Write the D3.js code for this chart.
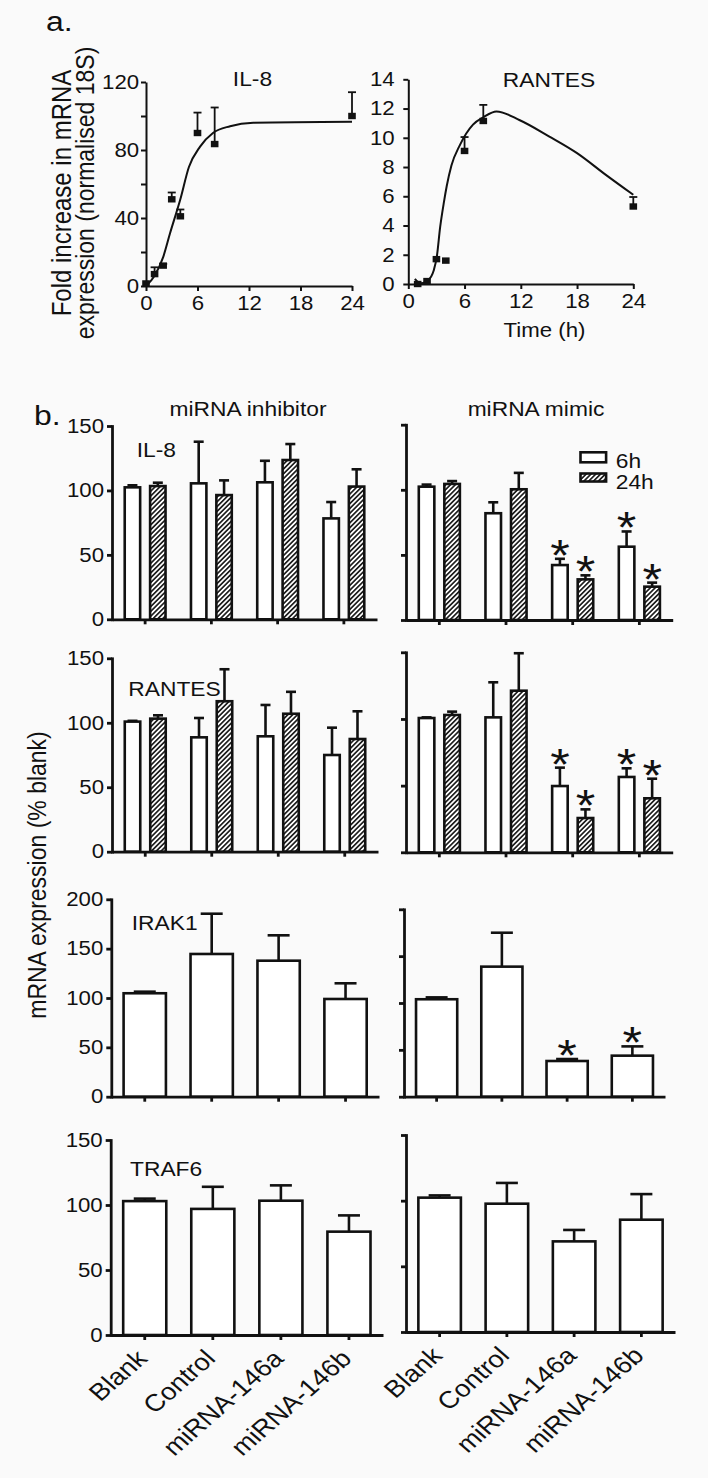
<!DOCTYPE html>
<html><head><meta charset="utf-8">
<script src="https://cdn.jsdelivr.net/npm/d3@7"></script>
<style>
body{margin:0;background:#fafafa;}
svg{display:block;}
text{font-family:"Liberation Sans",Arial,Helvetica,sans-serif;fill:#111;}
</style>
</head><body>
<svg id="c" width="708" height="1478"></svg>
<script>
// ---------- DATA: panel a (time course) ----------
const timeTicks = [0, 6, 12, 18, 24];
const il8Time = [0, 1, 2, 3, 4, 6, 8, 24];
const il8Mean = [1.5, 7, 12, 51, 41, 90, 83.5, 100];
const il8Sem  = [0, 4, 1, 4, 4, 12, 21.5, 14];
const il8FitTime = [0, 1, 2, 2.8, 4, 5, 6.3, 7.8, 9.8, 12.5, 24];
const il8Fit     = [0, 6, 17, 31, 51, 70, 82, 90, 94, 96, 96.6];
const il8YTicks = [0, 20, 40, 60, 80, 100, 120];

const rantesTime = [1, 2, 3, 4, 6, 8, 24];
const rantesMean = [0, 0.2, 1.7, 1.6, 9.1, 11.15, 5.3];
const rantesSem  = [0, 0, 0, 0, 0.95, 1.1, 0.65];
const rantesFitTime = [0.7, 1.3, 2.1, 2.7, 3.05, 3.4, 3.8, 4.1, 4.6, 5.5, 6.9, 8, 9.4, 11.9, 15, 18, 21, 24];
const rantesFit     = [0.35, 0.05, 0.25, 0.9, 1.9, 3.9, 5.6, 6.7, 8.1, 9.5, 10.9, 11.4, 11.8, 11.2, 10.1, 8.95, 7.5, 6.1];
const rantesYTicks = [0, 2, 4, 6, 8, 10, 12, 14];

// ---------- DATA: panel b (% blank) ----------
const categories = ["Blank", "Control", "miRNA-146a", "miRNA-146b"];
const seriesNames = ["6h", "24h"];
const ticks150 = [0, 50, 100, 150];
const ticks200 = [0, 50, 100, 150, 200];

const il8Inh6h = [102.4, 105.5, 106.3, 78.3];
const il8Inh6hErr = [1.6, 32.3, 16.7, 12.7];
const il8Inh24h = [103.4, 96.4, 123.6, 103];
const il8Inh24hErr = [2.6, 11.4, 12.4, 13.4];
const il8Mim6h = [102.4, 82, 42.2, 56.3];
const il8Mim6hErr = [1.6, 8.4, 4.8, 11.7];
const il8Mim24h = [104.5, 100.4, 31.2, 25.6];
const il8Mim24hErr = [2.2, 12.6, 3.1, 3.1];
const il8MimStars6h = [0, 0, 1, 1];
const il8MimStars24h = [0, 0, 1, 1];

const rantesInh6h = [100.9, 88.7, 89.5, 75];
const rantesInh6hErr = [0.6, 15, 24.3, 21.2];
const rantesInh24h = [103.2, 116.7, 107, 87.4];
const rantesInh24hErr = [2.6, 24.8, 17, 21.5];
const rantesMim6h = [100.7, 101.2, 49.7, 56.5];
const rantesMim6hErr = [0.5, 26.3, 13.8, 6.5];
const rantesMim24h = [103, 121.2, 25.7, 40.5];
const rantesMim24hErr = [2.5, 28.1, 6.5, 14.7];
const rantesMimStars6h = [0, 0, 1, 1];
const rantesMimStars24h = [0, 0, 1, 1];

const irak1Inh = [104.8, 144.6, 137.8, 99];
const irak1InhErr = [1.6, 40.8, 25.7, 15.9];
const irak1Mim = [104, 138.8, 38.1, 43.8];
const irak1MimErr = [2, 36.2, 2.1, 9.9];
const irak1MimStars = [0, 0, 1, 1];

const traf6Inh = [103, 97, 103.3, 79.5];
const traf6InhErr = [1.9, 17, 11.8, 12.5];
const traf6Mim = [102.3, 97.7, 69, 85.5];
const traf6MimErr = [1.7, 15.8, 8.7, 19.5];

// ---------- DRAWING ----------
const S = 1.14;            // horizontal stretch of the original artwork
const INK = "#111";
const svg = d3.select("#c");
svg.append("rect").attr("width", 708).attr("height", 1478).attr("fill", "#fafafa");

const defs = svg.append("defs");
const pat = defs.append("pattern").attr("id", "hatch").attr("patternUnits", "userSpaceOnUse")
  .attr("width", 3.4).attr("height", 3.4).attr("patternTransform", "rotate(45)");
pat.append("rect").attr("width", 3.4).attr("height", 3.4).attr("fill", "#fff");
pat.append("line").attr("x1", 1.7).attr("y1", 0).attr("x2", 1.7).attr("y2", 3.4)
  .attr("stroke", INK).attr("stroke-width", 1.6);

function txt(x, y, str, size, anchor, rot) {
  return svg.append("text")
    .attr("transform", `translate(${x},${y}) scale(${S},1)` + (rot ? ` rotate(${rot})` : ""))
    .attr("font-size", size).attr("text-anchor", anchor || "start").text(str);
}

function styleAxis(g, w, fs) {
  g.attr("font-family", null).attr("font-size", fs);
  g.selectAll("path,line").attr("stroke", INK).attr("stroke-width", w);
  g.selectAll("text").attr("fill", INK).attr("transform", `scale(${S},1)`);
}

// ----- panel a -----
function lineChart(cfg) {
  const x = d3.scaleLinear().domain([0, 24]).range([cfg.xa, cfg.xb]);
  const y = d3.scaleLinear().domain([0, cfg.ymax]).range([cfg.y0, cfg.yTop]);
  const g = svg.append("g");
  const ax = g.append("g").attr("transform", `translate(0,${cfg.y0})`)
    .call(d3.axisBottom(x).tickValues(timeTicks).tickSize(5).tickSizeOuter(0).tickPadding(5));
  styleAxis(ax, 2, 19.5);
  const ay = g.append("g").attr("transform", `translate(${cfg.xa},0)`)
    .call(d3.axisLeft(y).tickValues(cfg.yTicks).tickFormat(cfg.fmt).tickSize(5).tickSizeOuter(0).tickPadding(cfg.pad));
  styleAxis(ay, 2, 19.5);

  g.append("path").datum(d3.zip(cfg.fitT, cfg.fitY))
    .attr("d", d3.line().x(d => x(d[0])).y(d => y(d[1])).curve(d3.curveMonotoneX))
    .attr("fill", "none").attr("stroke", INK).attr("stroke-width", 2);

  const pts = d3.zip(cfg.t, cfg.m, cfg.e);
  const eb = g.append("g").attr("stroke", INK).attr("stroke-width", 1.8);
  pts.filter(d => d[2] > 0).forEach(d => {
    eb.append("line").attr("x1", x(d[0])).attr("x2", x(d[0])).attr("y1", y(d[1])).attr("y2", y(d[1] + d[2]));
    eb.append("line").attr("x1", x(d[0]) - 4).attr("x2", x(d[0]) + 4).attr("y1", y(d[1] + d[2])).attr("y2", y(d[1] + d[2]));
  });
  g.append("g").selectAll("rect").data(pts).join("rect")
    .attr("x", d => x(d[0]) - 3.8).attr("y", d => y(d[1]) - 3.2)
    .attr("width", 7.6).attr("height", 6.4).attr("fill", INK);
}

lineChart({xa: 146, xb: 352, y0: 286, yTop: 82, ymax: 120, yTicks: il8YTicks,
  fmt: d => (d % 40 === 0 ? d : ""), pad: 1,
  t: il8Time, m: il8Mean, e: il8Sem, fitT: il8FitTime, fitY: il8Fit});
lineChart({xa: 408.3, xb: 633.3, y0: 284, yTop: 79.3, ymax: 14, yTicks: rantesYTicks,
  fmt: d => d, pad: 7,
  t: rantesTime, m: rantesMean, e: rantesSem, fitT: rantesFitTime, fitY: rantesFit});

txt(46, 31, "a.", 28);
txt(252.5, 86, "IL-8", 20, "middle");
txt(549, 87, "RANTES", 20, "middle");
txt(544.5, 337, "Time (h)", 19.5, "middle");
txt(71, 193, "Fold increase in  mRNA", 24, "middle", -90);
txt(94, 193, "expression (normalised 18S)", 23, "middle", -90);

// ----- panel b -----
function barPanel(cfg) {
  const x = d3.scaleBand().domain(categories).range([cfg.xa, cfg.xb]);
  const y = d3.scaleLinear().domain([0, cfg.ymax]).range([cfg.y0, cfg.yTop]);
  const g = svg.append("g");
  const two = cfg.series.length === 2;
  const sub = two
    ? d3.scaleBand().domain(seriesNames).range([0, x.bandwidth()]).paddingInner(0.29).paddingOuter(0.45)
    : d3.scaleBand().domain(["one"]).range([0, x.bandwidth()]).paddingOuter(0.245);
  const keys = two ? seriesNames : ["one"];
  const sw = 2.6;
  const capW = two ? 10 : 22;

  cfg.series.forEach((s, si) => {
    const rows = categories.map((c, i) => ({c, v: s.vals[i], e: s.errs[i], star: s.stars ? s.stars[i] : 0}));
    const gx = d => x(d.c) + sub(keys[si]);
    const bw = sub.bandwidth();
    const eg = g.append("g").attr("stroke", INK).attr("stroke-width", sw);
    rows.forEach(d => {
      const cx = gx(d) + bw / 2;
      eg.append("line").attr("x1", cx).attr("x2", cx).attr("y1", y(d.v)).attr("y2", y(d.v + d.e));
      eg.append("line").attr("x1", cx - capW / 2).attr("x2", cx + capW / 2)
        .attr("y1", y(d.v + d.e)).attr("y2", y(d.v + d.e));
    });
    g.append("g").selectAll("rect").data(rows).join("rect")
      .attr("x", d => gx(d) + sw / 2).attr("y", d => y(d.v))
      .attr("width", bw - sw).attr("height", d => y(0) - y(d.v))
      .attr("fill", si === 1 ? "url(#hatch)" : "#fff")
      .attr("stroke", INK).attr("stroke-width", sw);
    rows.filter(d => d.star).forEach(d => {
      svg.append("text")
        .attr("transform", `translate(${gx(d) + bw / 2},${y(d.v + d.e) + 12}) scale(${S},1)`)
        .attr("font-size", 44).attr("text-anchor", "middle").text("*");
    });
  });

  const ax = g.append("g").attr("transform", `translate(0,${cfg.y0})`)
    .call(d3.axisBottom(x).tickSize(5).tickSizeOuter(0).tickFormat(""));
  styleAxis(ax, 2.8, 19);
  const ay = g.append("g").attr("transform", `translate(${cfg.xa},0)`)
    .call(d3.axisLeft(y).tickValues(cfg.yt).tickSize(5).tickSizeOuter(0).tickPadding(2)
      .tickFormat(cfg.yLabels ? d3.format("d") : ""));
  styleAxis(ay, 2.8, 19.5);
  ay.select(".domain").attr("stroke-linecap", "square");

  if (cfg.gene) txt(cfg.gx, cfg.gy, cfg.gene, 20);
  if (cfg.catLabels) {
    categories.forEach(c => {
      const cx = x(c) + x.bandwidth() / 2;
      txt(cx + 4, cfg.y0 + 25, c, 24, "end", -45);
    });
  }
}

const panels = [
  {xa: 112, xb: 377, y0: 619.3, yTop: 426, ymax: 150, yt: ticks150, yLabels: true, gene: "IL-8", gx: 136.7, gy: 456.7,
    series: [{vals: il8Inh6h, errs: il8Inh6hErr}, {vals: il8Inh24h, errs: il8Inh24hErr}]},
  {xa: 406, xb: 672.7, y0: 620, yTop: 424.7, ymax: 150, yt: ticks150, yLabels: false,
    series: [{vals: il8Mim6h, errs: il8Mim6hErr, stars: il8MimStars6h}, {vals: il8Mim24h, errs: il8Mim24hErr, stars: il8MimStars24h}]},
  {xa: 112, xb: 378, y0: 851.7, yTop: 658.3, ymax: 150, yt: ticks150, yLabels: true, gene: "RANTES", gx: 128.3, gy: 696,
    series: [{vals: rantesInh6h, errs: rantesInh6hErr}, {vals: rantesInh24h, errs: rantesInh24hErr}]},
  {xa: 406, xb: 672.7, y0: 852.3, yTop: 652.3, ymax: 150, yt: ticks150, yLabels: false,
    series: [{vals: rantesMim6h, errs: rantesMim6hErr, stars: rantesMimStars6h}, {vals: rantesMim24h, errs: rantesMim24hErr, stars: rantesMimStars24h}]},
  {xa: 111.3, xb: 379, y0: 1096.7, yTop: 899.3, ymax: 200, yt: ticks200, yLabels: true, gene: "IRAK1", gx: 131.7, gy: 930,
    series: [{vals: irak1Inh, errs: irak1InhErr}]},
  {xa: 404, xb: 665, y0: 1096.7, yTop: 909.3, ymax: 200, yt: ticks200, yLabels: false,
    series: [{vals: irak1Mim, errs: irak1MimErr, stars: irak1MimStars}]},
  {xa: 110.7, xb: 383, y0: 1335, yTop: 1140, ymax: 150, yt: ticks150, yLabels: true, gene: "TRAF6", gx: 130, gy: 1176, catLabels: true,
    series: [{vals: traf6Inh, errs: traf6InhErr}]},
  {xa: 406, xb: 675, y0: 1332, yTop: 1135, ymax: 150, yt: ticks150, yLabels: false, catLabels: true,
    series: [{vals: traf6Mim, errs: traf6MimErr}]}
];
panels.forEach(barPanel);

txt(34, 425, "b.", 28);
txt(248, 416, "miRNA inhibitor", 20, "middle");
txt(536, 416, "miRNA mimic", 20, "middle");
txt(46, 875, "mRNA expression (% blank)", 23, "middle", -90);

// legend
svg.append("rect").attr("x", 580.5).attr("y", 452.3).attr("width", 25.6).attr("height", 10)
  .attr("fill", "#fff").attr("stroke", INK).attr("stroke-width", 2.6);
svg.append("rect").attr("x", 580.5).attr("y", 473.5).attr("width", 25.6).attr("height", 8)
  .attr("fill", "url(#hatch)").attr("stroke", INK).attr("stroke-width", 2.6);
txt(615.7, 468, seriesNames[0], 20);
txt(615.7, 489, seriesNames[1], 20);
</script>
</body></html>
